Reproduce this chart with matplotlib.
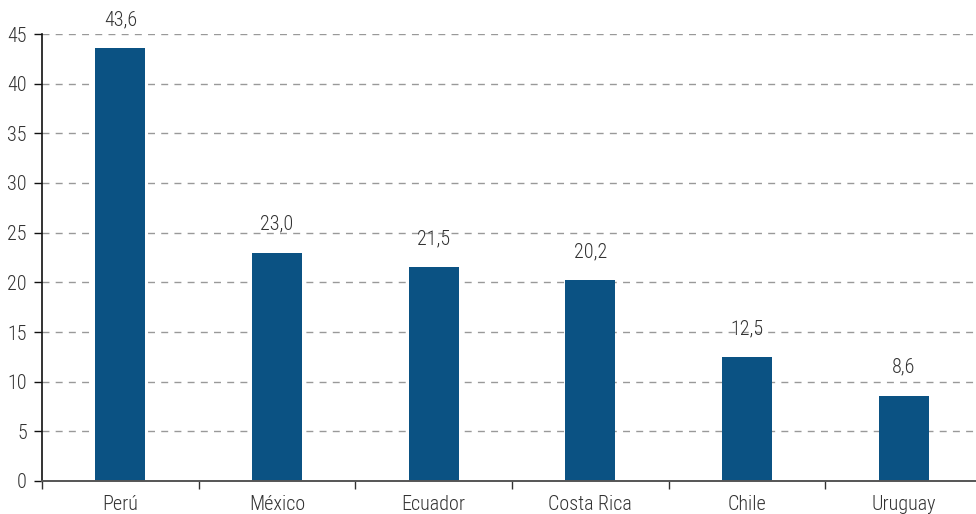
import matplotlib
matplotlib.use("Agg")
import matplotlib.pyplot as plt
import numpy as np

# Data
countries = ["Perú", "México", "Ecuador", "Costa Rica", "Chile", "Uruguay"]
values = [43.6, 23.0, 21.5, 20.2, 12.5, 8.6]
y_ticks = [0, 5, 10, 15, 20, 25, 30, 35, 40, 45]

BAR_COLOR = "#0b5283"
TEXT_COLOR = "#333333"
FONT_SIZE = 14.5

plt.rcParams["font.family"] = ["Roboto Condensed", "Liberation Sans Narrow", "Roboto", "DejaVu Sans"]
plt.rcParams["font.weight"] = "light"

fig = plt.figure(figsize=(9.76, 5.14), dpi=100)
ax = fig.add_axes([42 / 976, 33 / 514, 940 / 976, 447 / 514])

x = np.arange(len(countries))
ax.bar(x, values, width=0.32, color=BAR_COLOR, zorder=3)

# value labels above the bars, decimal comma
for xi, v in zip(x, values):
    ax.text(xi, v + 1.9, f"{v:.1f}".replace(".", ","), ha="center", va="bottom",
            fontsize=FONT_SIZE, color=TEXT_COLOR)

ax.set_xlim(-0.5, len(countries) - 0.5)
ax.set_ylim(0, 45)
ax.set_yticks(y_ticks)
ax.set_yticklabels([str(t) for t in y_ticks], fontsize=FONT_SIZE, color=TEXT_COLOR)

# grid lines at every tick except zero
for t in y_ticks[1:]:
    ax.axhline(t, color="#999999", linestyle=(0, (5, 4.5)), linewidth=1.0, zorder=1)

# category labels centred, tick marks between categories
ax.set_xticks(x)
ax.set_xticklabels(countries, fontsize=FONT_SIZE, color=TEXT_COLOR)
ax.tick_params(axis="x", length=0, pad=10)
ax.set_xticks(np.arange(-0.5, len(countries), 1.0), minor=True)
ax.tick_params(axis="x", which="minor", length=6, width=1, color="#333333", direction="out")
ax.tick_params(axis="y", length=6, width=1, color="#111111", pad=5)

for side in ["top", "right"]:
    ax.spines[side].set_visible(False)
ax.spines["left"].set_color("#111111")
ax.spines["left"].set_linewidth(1.2)
ax.spines["bottom"].set_color("#555555")
ax.spines["bottom"].set_linewidth(1.4)
ax.spines["bottom"].set_zorder(4)

fig.savefig("out.png", dpi=100)
